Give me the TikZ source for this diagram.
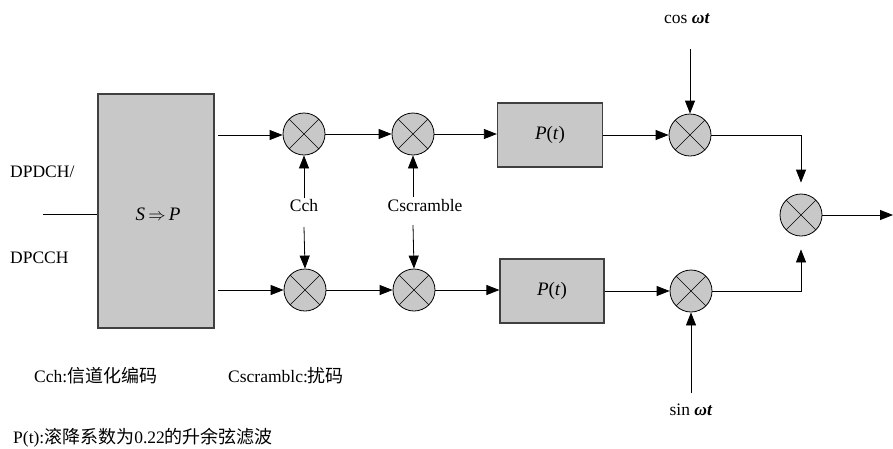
\documentclass[tikz,border=0pt]{standalone}
\usepackage{fontspec}
\setmainfont{Liberation Serif}
\newfontfamily\cjk{Noto Sans CJK SC}
\usetikzlibrary{arrows.meta,calc}
\definecolor{boxgray}{RGB}{200,200,200}
\newcommand{\zh}[1]{{\fontsize{18}{20}\selectfont\cjk #1}}
\begin{document}
\begin{tikzpicture}[x=1pt,y=-1pt,
  mult/.style={circle,draw=black,fill=boxgray,minimum size=42pt,inner sep=0pt,line width=0.8pt,
    path picture={\draw[line width=0.6pt] (path picture bounding box.north west)--(path picture bounding box.south east)
      (path picture bounding box.north east)--(path picture bounding box.south west);}},
  blk/.style={rectangle,draw=black!75,fill=boxgray,line width=1.2pt,inner sep=0pt},
  lbl/.style={font=\fontsize{17.5}{20}\selectfont,inner sep=1pt},
  note/.style={font=\fontsize{17.5}{20}\selectfont,inner sep=0pt,anchor=west},
  arr/.style={-{Triangle[length=13pt,width=10pt]},line width=0.8pt},
  ln/.style={line width=0.8pt}]
\useasboundingbox (0,0) rectangle (893,448);
% serial to parallel block
\node[blk,minimum width=116pt,minimum height=234pt] (sp) at (156,211) {};
\node[font=\fontsize{19}{22}\selectfont] (sptxt) at (158,214) {\textit{S}\,$\Rightarrow$\,\textit{P}};
\coordinate (in) at (43,214);
\draw[ln] (in) -- (sp.west |- in);
\node[lbl,anchor=west] (dpdch) at (9,172) {DPDCH/};
\node[lbl,anchor=west] (dpcch) at (9,258) {DPCCH};
% multipliers
\node[mult] (m1) at (304,134) {};
\node[mult] (m4) at (305,290) {};
\node[mult] (m2) at (413,134) {};
\node[mult] (m5) at (414,290) {};
\node[mult] (m3) at (690,135) {};
\node[mult] (m6) at (691,291) {};
\node[mult] (m7) at (801,215) {};
% filters
\node[blk,minimum width=105pt,minimum height=64pt,font=\fontsize{19}{22}\selectfont] (p1) at (550,135) {\textit{P}(\textit{t})};
\node[blk,minimum width=104pt,minimum height=64pt,font=\fontsize{19}{22}\selectfont] (p2) at (552,291) {\textit{P}(\textit{t})};
% codes
\node[lbl] (cch) at (304,206) {Cch};
\node[lbl] (csc) at (425,206) {Cscramble};
\coordinate (cchu) at (304,198);
\coordinate (cchd) at (304,227);
\coordinate (cscu) at (413,197);
\coordinate (cscd) at (413,225);
% carriers
\node[lbl] (cos) at (687,19) {cos \textbf{\textit{ωt}}};
\node[lbl] (sin) at (691,410) {sin \textbf{\textit{ωt}}};
\coordinate (cosst) at (690,49);
\coordinate (sinst) at (691,393);
% upper branch
\coordinate (s1) at (218,135);
\draw[arr] (s1) -- (m1.west |- s1);
\draw[arr] (m1.east) -- (m2.west);
\draw[arr] (m2.east) -- (p1.west |- m2);
\draw[arr] (p1.east) -- (m3.west);
\coordinate (j1) at ([yshift=11pt]m7.north);
\draw[arr] (m3.east) -| (j1);
% lower branch
\coordinate (s2) at (218,290);
\draw[arr] (s2) -- (m4.west);
\draw[arr] (m4.east) -- (m5.west);
\draw[arr] (m5.east) -- (p2.west |- m5);
\draw[arr] (p2.east) -- (m6.west);
\coordinate (j2) at ([yshift=-13pt]m7.south);
\draw[arr] (m6.east) -| (j2);
% code inputs
\draw[arr] (cchu) -- (m1.south);
\draw[arr] (cchd) -- (m4.north);
\draw[arr] (cscu) -- (m2.south);
\draw[arr] (cscd) -- (m5.north);
% carrier inputs
\draw[arr] (cosst) -- (m3.north);
\draw[arr] (sinst) -- (m6.south);
% output
\coordinate (out) at (893,215);
\draw[arr] (m7.east) -- (out);
% notes
\node[note] (n1) at (34,376) {Cch:\zh{信道化编码}};
\node[note] (n2) at (228,376) {Cscramblc:\zh{扰码}};
\node[note] (n3) at (13,438) {P(t):\zh{滚降系数为}0.22\zh{的升余弦滤波}};
\end{tikzpicture}
\end{document}
